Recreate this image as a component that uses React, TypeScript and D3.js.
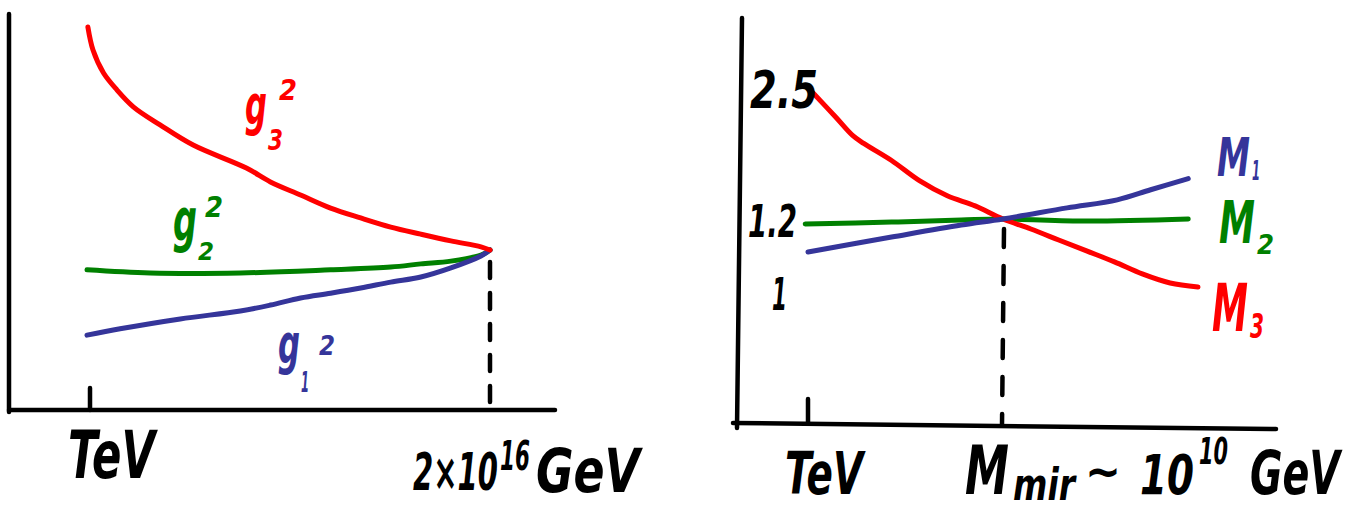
import React, { useEffect, useRef } from "react";
import * as d3 from "d3";

// left sketch: g_i^2 against log10(mu / GeV), meeting at 2x10^16
const g3Mu = [2.93, 3.1, 3.45, 3.9, 4.45, 5.33, 6.43, 8.2, 9, 10, 11, 12, 13, 14, 15, 16, 16.3];
const g3Val = [0.967, 0.909, 0.851, 0.808, 0.765, 0.72, 0.669, 0.611, 0.576, 0.543, 0.51, 0.485, 0.462, 0.444, 0.427, 0.412, 0.404];
const g2Mu = [2.9, 5, 8, 11, 13, 14, 15, 16, 16.3];
const g2Val = [0.354, 0.346, 0.346, 0.354, 0.361, 0.369, 0.376, 0.391, 0.404];
const g1Mu = [2.9, 4, 6, 8, 9, 10, 11, 12, 13, 14, 15, 16, 16.3];
const g1Val = [0.189, 0.205, 0.23, 0.25, 0.265, 0.283, 0.295, 0.308, 0.323, 0.336, 0.359, 0.389, 0.404];

// right sketch: gaugino masses M_i, crossing at M_mir ~ 10^10 GeV
const m3Mu = [3.15, 4, 4.6, 5, 6, 7, 8, 9, 10, 11, 12, 13, 14, 15, 16, 17];
const m3Val = [2.48, 2.23, 2.05, 1.97, 1.8, 1.6, 1.45, 1.35, 1.22, 1.178, 1.148, 1.118, 1.088, 1.055, 1.03, 1.019];
const m2Mu = [2.9, 6, 8.5, 10, 13, 16.65];
const m2Val = [1.192, 1.197, 1.21, 1.22, 1.2, 1.22];
const m1Mu = [3, 6, 8.5, 10, 12.3, 14.1, 15.3, 16.65];
const m1Val = [1.115, 1.156, 1.189, 1.22, 1.33, 1.41, 1.51, 1.62];

const rightTicks = [2.5, 1.2, 1];
const rightTickLabels = ["2.5", "1.2", "1"];

const RED = "#ff0000";
const GREEN = "#008000";
const BLUE = "#35359a";
const FONT = "'DejaVu Sans', sans-serif";

export default function App() {
  const ref = useRef<SVGSVGElement>(null);

  useEffect(() => {
    const svg = d3.select(ref.current);
    svg.selectAll("*").remove();

    const xL = d3.scaleLinear().domain([3, 16.3]).range([90, 490]);
    const yL = d3.scaleLinear().domain([0, 1]).range([410, 14]);
    const xR = d3.scaleLinear().domain([3, 10]).range([808, 1003]);
    const yR = d3.scaleLinear().domain([0, 1, 1.2, 2.5, 3.2]).range([425, 294, 221, 90, 20]);

    const ink = (d: string, w = 4.5) =>
      svg.append("path").attr("d", d).attr("fill", "none").attr("stroke", "#000")
        .attr("stroke-width", w).attr("stroke-linecap", "round");

    // axes, drawn by hand
    ink("M9,14 L9,412");
    ink("M9,410 L555,410");
    ink("M742,18 L737,428");
    ink("M733,423 L1276,429");

    // TeV ticks
    ink(`M${xL(3)},${yL(0) - 22} L${xL(3)},${yL(0)}`);
    ink(`M${xR(3)},${yR(0) - 26} L${xR(3)},${yR(0) - 3}`);

    // dashed drops
    ink(`M${xL(16.3)},${yL(0.404) + 12} L${xL(16.3)},${yL(0)}`).attr("stroke-dasharray", "16 15");
    ink(`M${xR(10) + 1},${yR(1.22) + 10} L${xR(10) - 1},${yR(0)}`).attr("stroke-dasharray", "18 19");

    const curve = (mu: number[], val: number[], x: any, y: any, color: string) => {
      const pts = mu.map((m, i) => [x(m), y(val[i])] as [number, number]);
      svg.append("path")
        .attr("d", d3.line().curve(d3.curveCatmullRom.alpha(0.5))(pts))
        .attr("fill", "none")
        .attr("stroke", color)
        .attr("stroke-width", 5)
        .attr("stroke-linecap", "round")
        .attr("stroke-linejoin", "round");
    };

    curve(g2Mu, g2Val, xL, yL, GREEN);
    curve(g1Mu, g1Val, xL, yL, BLUE);
    curve(g3Mu, g3Val, xL, yL, RED);

    curve(m2Mu, m2Val, xR, yR, GREEN);
    curve(m3Mu, m3Val, xR, yR, RED);
    curve(m1Mu, m1Val, xR, yR, BLUE);

    // handwritten-ish text: squeeze each piece to the width it has in the sketch
    const label = (s: string, x: number, y: number, size: number, len: number, color = "#000") => {
      const t = svg.append("text")
        .attr("font-family", FONT)
        .attr("font-style", "italic")
        .attr("font-weight", "bold")
        .attr("font-size", size)
        .attr("fill", color)
        .text(s);
      const w = (t.node() as SVGTextElement).getComputedTextLength() || len;
      t.attr("transform", `translate(${x},${y}) scale(${len / w},1)`);
      return t;
    };

    // curve names, left
    label("g", 245, 124, 55, 22, RED);
    label("3", 268, 150, 28, 15, RED);
    label("2", 279, 100, 28, 18, RED);
    label("g", 173, 241, 58, 24, GREEN);
    label("2", 198, 260, 24, 16, GREEN);
    label("2", 205, 217, 28, 18, GREEN);
    label("g", 278, 363, 56, 22, BLUE);
    label("1", 301, 392, 28, 8, BLUE);
    label("2", 319, 355, 26, 16, BLUE);

    // curve names, right
    label("M", 1217, 176, 54, 33, BLUE);
    label("1", 1252, 180, 26, 8, BLUE);
    label("M", 1219, 243, 58, 36, GREEN);
    label("2", 1257, 254, 26, 17, GREEN);
    label("M", 1212, 331, 66, 36, RED);
    label("3", 1250, 338, 34, 14, RED);

    // value marks on the right axis
    const tickLen = [68, 49, 15];
    const tickX = [750, 748, 772];
    const tickSize = [51, 44, 44];
    rightTicks.forEach((v, i) => {
      label(rightTickLabels[i], tickX[i], yR(v) + tickSize[i] * 0.36, tickSize[i], tickLen[i]);
    });

    // energy labels
    label("TeV", 68, 478, 66, 87);
    label("2×10", 413, 490, 52, 85);
    label("16", 500, 470, 40, 30);
    label("GeV", 536, 492, 60, 104);

    label("TeV", 785, 494, 58, 78);
    label("M", 965, 494, 68, 44);
    label("mir", 1013, 500, 44, 62);
    label("~", 1085, 488, 48, 36);
    label("10", 1140, 494, 56, 54);
    label("10", 1199, 464, 38, 29);
    label("GeV", 1250, 494, 60, 90);
  }, []);

  return (
    <svg
      ref={ref}
      width={1354}
      height={511}
      style={{ position: "absolute", left: 0, top: 0, background: "#fff" }}
    />
  );
}
